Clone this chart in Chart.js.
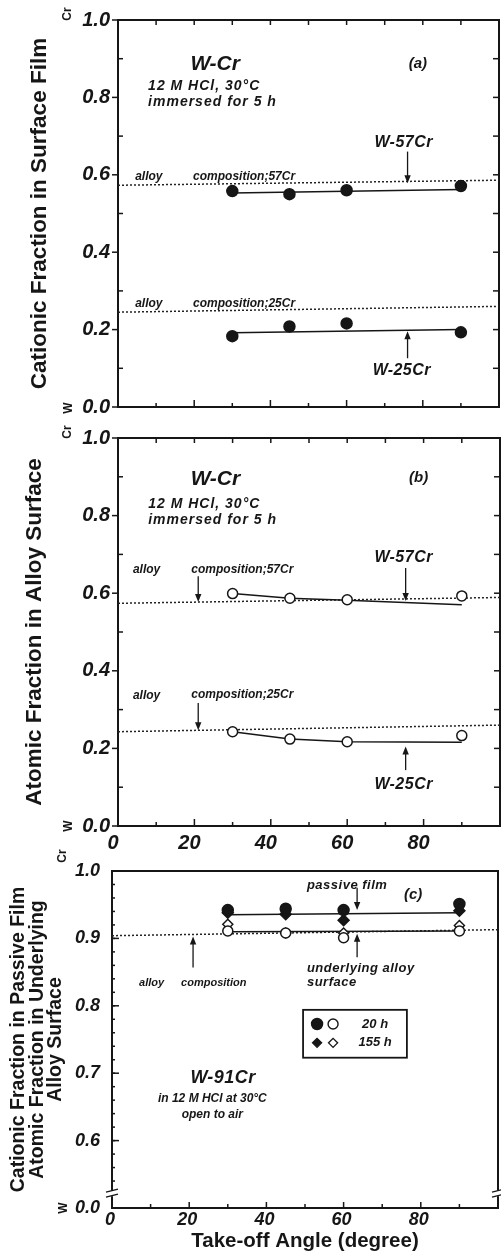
<!DOCTYPE html>
<html>
<head>
<meta charset="utf-8">
<title>W-Cr take-off angle</title>
<script src="https://cdn.jsdelivr.net/npm/chart.js@4.4.1/dist/chart.umd.min.js"></script>
<style>
  html, body { margin: 0; padding: 0; background: #fff; overflow: hidden; }
  #wrap { position: relative; width: 501px; height: 1255px; }
  #wrap canvas { position: absolute; left: 0; top: 0; }
</style>
</head>
<body>
<div id="wrap">
  <canvas id="chartA" width="501" height="1255"></canvas>
  <canvas id="chartB" width="501" height="1255"></canvas>
  <canvas id="chartC" width="501" height="1255"></canvas>
</div>
<script>
// ---- values ----
const angles = [30, 45, 60, 90];          // take-off angle (degree)
const fitEnds = [30, 90];                 // ends of the straight fit lines
const compEnds = [0, 100];                // ends of the dotted alloy composition lines

// (a) cationic fraction of Cr in the surface film
const filmW57 = [0.558, 0.550, 0.560, 0.571];
const filmW25 = [0.183, 0.208, 0.216, 0.193];
const filmFitW57 = [0.553, 0.562];
const filmFitW25 = [0.192, 0.200];
const compA57 = [0.573, 0.586];
const compA25 = [0.245, 0.260];

// (b) atomic fraction of Cr in the alloy surface
const alloyW57 = [0.599, 0.587, 0.583, 0.593];
const alloyW25 = [0.243, 0.224, 0.217, 0.233];
const alloyCurveW57 = [0.599, 0.587, 0.582, 0.570];
const alloyCurveW25 = [0.243, 0.224, 0.217, 0.216];
const compB57 = [0.574, 0.589];
const compB25 = [0.243, 0.260];

// (c) W-91Cr, passive film and underlying alloy
const film20h = [0.942, 0.944, 0.942, 0.951];
const film155h = [0.938, 0.936, 0.927, 0.941];
const under20h = [0.911, 0.908, 0.901, 0.911];
const under155h = [0.921, 0.908, 0.908, 0.919];
const filmFitC = [0.935, 0.938];
const underFitC = [0.910, 0.911];
const compC = [0.904, 0.913];

const legendC = ['20 h', '155 h'];

const ink = '#161616';
const fam = "'Liberation Sans', Arial, sans-serif";

const xy = (xs, ys) => xs.map((x, i) => ({ x, y: ys[i] }));
const steps = (a, b, s) => { const out = []; for (let v = a; v <= b + 1e-9; v += s) out.push(+v.toFixed(3)); return out; };

// ---- decorations per panel (text in data units) ----
const decor = {
  chartA: {
    texts: [
      { x: 25.5, y: 0.887, t: 'W-Cr', s: 21, a: 'center' },
      { x: 7.9, y: 0.828, t: '12 M HCl, 30°C', s: 14, ls: 1 },
      { x: 7.9, y: 0.787, t: 'immersed for 5 h', s: 14, ls: 1 },
      { x: 78.7, y: 0.887, t: '(a)', s: 15, a: 'center' },
      { x: 75, y: 0.684, t: 'W-57Cr', s: 16, a: 'center', ls: 0.5 },
      { x: 4.5, y: 0.596, t: 'alloy', s: 12 },
      { x: 19.7, y: 0.596, t: 'composition;57Cr', s: 12 },
      { x: 4.5, y: 0.267, t: 'alloy', s: 12 },
      { x: 19.7, y: 0.267, t: 'composition;25Cr', s: 12 },
      { x: 74.5, y: 0.095, t: 'W-25Cr', s: 16, a: 'center', ls: 0.5 }
    ],
    arrows: [
      { x: 76, y0: 0.66, y1: 0.578 },
      { x: 76, y0: 0.126, y1: 0.196 }
    ],
    ticks: {
      left: [[steps(0, 1, 0.2), -6], [steps(0.1, 0.9, 0.2), 5]],
      right: [[steps(0.1, 0.9, 0.1), 6]],
      top: [[steps(10, 90, 10), 5]],
      bottom: [[steps(20, 80, 20), 7], [steps(10, 90, 20), 4]]
    },
    units: { cr: [-50, -6], w: [-49, 1] }
  },
  chartB: {
    texts: [
      { x: 25.5, y: 0.894, t: 'W-Cr', s: 21, a: 'center' },
      { x: 7.9, y: 0.83, t: '12 M HCl, 30°C', s: 14, ls: 1 },
      { x: 7.9, y: 0.789, t: 'immersed for 5 h', s: 14, ls: 1 },
      { x: 78.7, y: 0.897, t: '(b)', s: 15, a: 'center' },
      { x: 74.8, y: 0.693, t: 'W-57Cr', s: 16, a: 'center', ls: 0.5 },
      { x: 3.9, y: 0.66, t: 'alloy', s: 12 },
      { x: 19.2, y: 0.66, t: 'composition;57Cr', s: 12 },
      { x: 3.9, y: 0.336, t: 'alloy', s: 12 },
      { x: 19.2, y: 0.338, t: 'composition;25Cr', s: 12 },
      { x: 74.8, y: 0.106, t: 'W-25Cr', s: 16, a: 'center', ls: 0.5 }
    ],
    arrows: [
      { x: 75.3, y0: 0.665, y1: 0.58 },
      { x: 21, y0: 0.644, y1: 0.577 },
      { x: 21, y0: 0.317, y1: 0.247 },
      { x: 75.3, y0: 0.144, y1: 0.205 }
    ],
    ticks: {
      left: [[steps(0, 1, 0.2), -6], [steps(0.1, 0.9, 0.2), 5]],
      right: [[steps(0.1, 0.9, 0.1), 6]],
      top: [[steps(10, 90, 10), 5]],
      bottom: [[steps(20, 80, 20), 7], [steps(10, 90, 20), 4]]
    },
    units: { cr: [-50, -6], w: [-49, 0] }
  },
  chartC: {
    texts: [
      { x: 50.5, y: 0.979, t: 'passive film', s: 13, ls: 0.5 },
      { x: 78, y: 0.964, t: '(c)', s: 15, a: 'center' },
      { x: 50.5, y: 0.856, t: 'underlying alloy', s: 13, ls: 0.5 },
      { x: 50.5, y: 0.834, t: 'surface', s: 13, ls: 0.5 },
      { x: 7, y: 0.834, t: 'alloy', s: 11 },
      { x: 17.9, y: 0.834, t: 'composition', s: 11 },
      { x: 28.8, y: 0.693, t: 'W-91Cr', s: 18, a: 'center', ls: 0.5 },
      { x: 26, y: 0.662, t: 'in 12 M HCl at 30°C', s: 12, a: 'center' },
      { x: 26, y: 0.638, t: 'open to air', s: 12, a: 'center' }
    ],
    arrows: [
      { x: 63.5, y0: 0.975, y1: 0.942 },
      { x: 63.5, y0: 0.872, y1: 0.907 },
      { x: 21, y0: 0.857, y1: 0.903 }
    ],
    ticks: {
      left: [[steps(0.6, 1, 0.1), 7], [steps(0.52, 0.98, 0.02), 3]],
      bottom: [[steps(20, 80, 20), 6], [steps(10, 90, 20), 4]]
    },
    breaks: [0.522],
    legend: { x0: 49.5, x1: 76.4, y0: 0.794, y1: 0.723, rows: [0.773, 0.745] },
    units: { cr: [-49, -15], w: [-48, 0] }
  }
};

function arrow(ctx, x, ya, yb) {
  const dir = yb > ya ? 1 : -1;
  ctx.beginPath(); ctx.moveTo(x, ya); ctx.lineTo(x, yb - dir * 6); ctx.stroke();
  ctx.beginPath(); ctx.moveTo(x, yb); ctx.lineTo(x - 3.2, yb - dir * 8); ctx.lineTo(x + 3.2, yb - dir * 8); ctx.closePath(); ctx.fill();
}

function marker(ctx, style, x, y, r, filled) {
  ctx.beginPath();
  if (style === 'circle') ctx.arc(x, y, r, 0, Math.PI * 2);
  else { ctx.moveTo(x, y - r); ctx.lineTo(x + r, y); ctx.lineTo(x, y + r); ctx.lineTo(x - r, y); ctx.closePath(); }
  ctx.fillStyle = filled ? ink : '#fff'; ctx.fill();
  ctx.lineWidth = 1.4; ctx.strokeStyle = ink; ctx.stroke();
}

const decorPlugin = {
  id: 'decor',
  afterDraw(chart) {
    const d = decor[chart.canvas.id];
    if (!d) return;
    const { ctx, chartArea: a, scales: { x: xs, y: ys } } = chart;
    const px = v => xs.getPixelForValue(v), py = v => ys.getPixelForValue(v);
    ctx.save();
    ctx.strokeStyle = ink; ctx.fillStyle = ink; ctx.lineWidth = 1.5;
    const seg = (x0, y0, x1, y1) => { ctx.beginPath(); ctx.moveTo(x0, y0); ctx.lineTo(x1, y1); ctx.stroke(); };
    const t = d.ticks;
    (t.left || []).forEach(([vals, len]) => vals.forEach(v => seg(a.left, py(v), a.left + len, py(v))));
    (t.right || []).forEach(([vals, len]) => vals.forEach(v => seg(a.right, py(v), a.right - len, py(v))));
    (t.top || []).forEach(([vals, len]) => vals.forEach(v => seg(px(v), a.top, px(v), a.top + len)));
    (t.bottom || []).forEach(([vals, len]) => vals.forEach(v => seg(px(v), a.bottom, px(v), a.bottom - len)));

    // axis breaks
    (d.breaks || []).forEach(v => {
      [a.left, a.right].forEach(x => {
        const y = py(v);
        ctx.fillStyle = '#fff'; ctx.fillRect(x - 6, y - 3, 12, 6);
        ctx.lineWidth = 1.3;
        seg(x - 6, y - 1, x + 6, y - 4);
        seg(x - 6, y + 4, x + 6, y + 1);
      });
    });

    // arrows
    ctx.fillStyle = ink; ctx.lineWidth = 1.3;
    d.arrows.forEach(ar => arrow(ctx, px(ar.x), py(ar.y0), py(ar.y1)));

    // texts
    ctx.textBaseline = 'middle';
    d.texts.forEach(tx => {
      ctx.font = `italic bold ${tx.s}px ${fam}`;
      ctx.letterSpacing = (tx.ls || 0) + 'px';
      ctx.textAlign = tx.a || 'left';
      ctx.fillStyle = ink;
      ctx.fillText(tx.t, px(tx.x), py(tx.y));
    });
    ctx.letterSpacing = '0px';

    // W / Cr labels next to 0.0 and 1.0
    const u = d.units;
    ctx.font = `bold 12px ${fam}`; ctx.textAlign = 'center';
    const rot = (txt, x, y) => { ctx.save(); ctx.translate(x, y); ctx.rotate(-Math.PI / 2); ctx.fillText(txt, 0, 0); ctx.restore(); };
    rot('Cr', a.left + u.cr[0], a.top + u.cr[1]);
    rot('W', a.left + u.w[0], a.bottom + u.w[1]);

    // legend box of panel (c)
    if (d.legend) {
      const L = d.legend;
      ctx.lineWidth = 1.8; ctx.strokeStyle = ink;
      ctx.strokeRect(px(L.x0), py(L.y0), px(L.x1) - px(L.x0), py(L.y1) - py(L.y0));
      const styles = ['circle', 'diamond'];
      L.rows.forEach((rv, i) => {
        const y = py(rv);
        marker(ctx, styles[i], px(L.x0) + 14, y, i ? 4.5 : 5.5, true);
        marker(ctx, styles[i], px(L.x0) + 30, y, i ? 4.5 : 5, false);
        ctx.fillStyle = ink; ctx.font = `italic bold 13px ${fam}`; ctx.textAlign = 'center';
        ctx.fillText(legendC[i], px(L.x0) + 72, y);
      });
    }
    ctx.restore();
  }
};

function frameAxes(xMax) {
  const base = { display: true, grid: { display: false, drawTicks: false }, border: { display: true, color: ink, width: 2 }, ticks: { display: false } };
  return {
    x2: Object.assign({ type: 'linear', position: 'top', min: 0, max: xMax, afterFit: s => { s.height = 0; s.paddingLeft = 0; s.paddingRight = 0; } }, base),
    y2: Object.assign({ type: 'linear', position: 'right', min: 0, max: 1, afterFit: s => { s.width = 0; } }, base)
  };
}

const tickFont = size => ({ family: fam, size, style: 'italic', weight: 'bold' });

function xAxis(opts) {
  return {
    type: 'linear', position: 'bottom', min: 0, max: 100,
    afterFit: s => { s.height = opts.height; s.paddingLeft = 0; s.paddingRight = 0; },
    grid: { display: false, drawTicks: false },
    border: { display: true, color: ink, width: 2 },
    ticks: {
      display: opts.labels, stepSize: 20, padding: opts.pad, labelOffset: opts.shift, color: ink, font: tickFont(opts.size),
      maxRotation: 0, autoSkip: false,
      callback: v => (v === 100 ? '' : String(v))
    },
    title: opts.title ? { display: true, text: opts.title, color: ink, font: { family: fam, size: 20.5, weight: 'bold' }, padding: { top: 0, bottom: 1 } } : { display: false }
  };
}

function yAxis(opts) {
  return {
    type: 'linear', position: 'left', min: opts.min, max: 1,
    afterFit: s => { s.width = opts.width; },
    grid: { display: false, drawTicks: false },
    border: { display: true, color: ink, width: 2 },
    ticks: { stepSize: opts.step, padding: opts.pad, color: ink, font: tickFont(opts.size), callback: opts.cb },
    title: { display: true, text: opts.title, color: ink, font: { family: fam, size: opts.tsize, weight: 'bold', lineHeight: opts.lh }, padding: { top: opts.tpad, bottom: 0 } }
  };
}

function baseOptions(pad, scales) {
  return {
    responsive: false, animation: false, devicePixelRatio: 1,
    layout: { padding: pad, autoPadding: false },
    plugins: { legend: { display: false }, tooltip: { enabled: false } },
    scales
  };
}

const pts = (data, style, r, filled) => ({
  data, showLine: false, pointStyle: style, pointRadius: r, pointBorderWidth: 1.5,
  pointBackgroundColor: filled ? ink : '#fff', pointBorderColor: ink
});
const solid = data => ({ data, showLine: true, pointRadius: 0, borderColor: ink, borderWidth: 1.5 });
const dotted = data => ({ data, showLine: true, pointRadius: 0, borderColor: '#222', borderWidth: 1.5, borderDash: [2, 2] });

// (a)
new Chart(document.getElementById('chartA'), {
  type: 'scatter',
  data: {
    datasets: [
      pts(xy(angles, filmW57), 'circle', 5.5, true),
      pts(xy(angles, filmW25), 'circle', 5.5, true),
      solid(xy(fitEnds, filmFitW57)),
      solid(xy(fitEnds, filmFitW25)),
      dotted(xy(compEnds, compA57)),
      dotted(xy(compEnds, compA25))
    ]
  },
  options: baseOptions({ left: 0, right: 2, top: 18, bottom: 848 }, Object.assign({
    x: xAxis({ height: 0, labels: false, pad: 0, shift: 0, size: 20 }),
    y: yAxis({ min: 0, step: 0.2, width: 118, pad: 8, size: 20, cb: v => v.toFixed(1), title: 'Cationic Fraction in Surface Film', tsize: 22.5, lh: 1.06, tpad: 28 })
  }, frameAxes(100))),
  plugins: [decorPlugin]
});

// (b)
new Chart(document.getElementById('chartB'), {
  type: 'scatter',
  data: {
    datasets: [
      pts(xy(angles, alloyW57), 'circle', 5, false),
      pts(xy(angles, alloyW25), 'circle', 5, false),
      solid(xy(angles, alloyCurveW57)),
      solid(xy(angles, alloyCurveW25)),
      dotted(xy(compEnds, compB57)),
      dotted(xy(compEnds, compB25))
    ]
  },
  options: baseOptions({ left: 0, right: 1, top: 438, bottom: 399 }, Object.assign({
    x: xAxis({ height: 30, labels: true, pad: 5, shift: -5, size: 20 }),
    y: yAxis({ min: 0, step: 0.2, width: 118, pad: 8, size: 20, cb: v => v.toFixed(1), title: 'Atomic Fraction in Alloy Surface', tsize: 22.5, lh: 1.06, tpad: 23 })
  }, frameAxes(100))),
  plugins: [decorPlugin]
});

// (c)
const scalesC = Object.assign({
  x: xAxis({ height: 47, labels: true, pad: 1, shift: -2, size: 18, title: 'Take-off Angle (degree)' }),
  y: yAxis({ min: 0.5, step: 0.1, width: 112, pad: 12, size: 18, cb: v => (Math.abs(v - 0.5) < 1e-6 ? '0.0' : v.toFixed(1)),
    title: ['Cationic Fraction in Passive Film', 'Atomic Fraction in Underlying', 'Alloy Surface'], tsize: 19.5, lh: 0.93, tpad: 10 })
}, frameAxes(100));
scalesC.y2.min = 0.5;
new Chart(document.getElementById('chartC'), {
  type: 'scatter',
  data: {
    datasets: [
      pts(xy(angles, film20h), 'circle', 5.5, true),
      pts(xy(angles, film155h), 'rectRot', 5.5, true),
      pts(xy(angles, under20h), 'circle', 5, false),
      pts(xy(angles, under155h), 'rectRot', 5, false),
      solid(xy(fitEnds, filmFitC)),
      solid(xy(fitEnds, underFitC)),
      dotted(xy(compEnds, compC))
    ]
  },
  options: baseOptions({ left: 0, right: 3, top: 871, bottom: 0 }, scalesC),
  plugins: [decorPlugin]
});
</script>
</body>
</html>
